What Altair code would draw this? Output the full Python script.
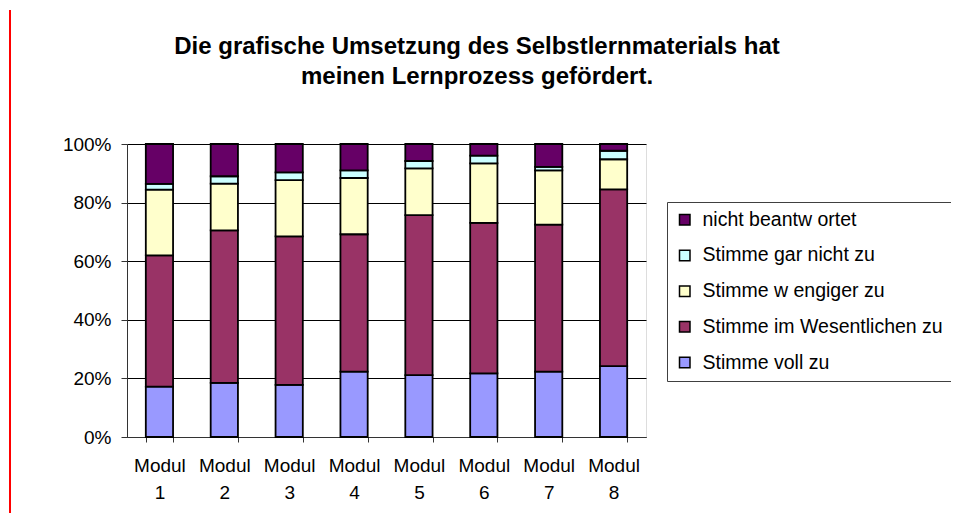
import altair as alt
import pandas as pd

modules = ["Modul 1", "Modul 2", "Modul 3", "Modul 4", "Modul 5", "Modul 6", "Modul 7", "Modul 8"]

# values in percent
voll = [17.2, 18.5, 17.8, 22.3, 21.1, 21.7, 22.3, 24.2]
wesentlich = [44.8, 52.0, 50.7, 46.9, 54.6, 51.4, 50.2, 60.3]
weniger = [22.4, 16.0, 19.2, 19.2, 16.0, 20.3, 18.5, 10.3]
gar_nicht = [2.0, 2.5, 2.6, 2.6, 2.5, 2.6, 1.2, 2.9]
nicht_beantwortet = [13.6, 11.0, 9.7, 9.0, 5.8, 4.0, 7.8, 2.3]

series_names = [
    "Stimme voll zu",
    "Stimme im Wesentlichen zu",
    "Stimme w engiger zu",
    "Stimme gar nicht zu",
    "nicht beantw ortet",
]
series_values = [voll, wesentlich, weniger, gar_nicht, nicht_beantwortet]

legend_order = list(reversed(series_names))
legend_colors = ["#660066", "#CCFFFF", "#FFFFCC", "#993366", "#9999FF"]

title_lines = [
    "Die grafische Umsetzung des Selbstlernmaterials hat",
    "meinen Lernprozess gefördert.",
]

rows = []
for s_idx, (name, vals) in enumerate(zip(series_names, series_values)):
    for m, v in zip(modules, vals):
        rows.append({"Modul": m, "Antwort": name, "Wert": v, "Reihenfolge": s_idx})
df = pd.DataFrame(rows)

FONT = "Liberation Sans"

bars = alt.Chart(df).mark_bar(stroke="black", strokeWidth=1.8).encode(
    x=alt.X(
        "Modul:N",
        sort=modules,
        scale=alt.Scale(paddingInner=0.58, paddingOuter=0.29),
        axis=alt.Axis(
            title=None,
            labelAngle=0,
            labelExpr="split(datum.label, ' ')",
            labelFont=FONT,
            labelFontSize=19,
            labelColor="black",
            labelLineHeight=27,
            labelPadding=14,
            tickBand="extent",
            ticks=True,
            tickSize=5,
            tickColor="#333333",
            domainColor="#333333",
            domainWidth=1,
            grid=False,
        ),
    ),
    y=alt.Y(
        "Wert:Q",
        stack="normalize",
        scale=alt.Scale(domain=[0, 1]),
        axis=alt.Axis(
            title=None,
            format=".0%",
            values=[0, 0.2, 0.4, 0.6, 0.8, 1.0],
            labelFont=FONT,
            labelFontSize=19,
            labelColor="black",
            labelPadding=10,
            tickSize=6,
            tickColor="#333333",
            domainColor="#333333",
            grid=True,
            gridColor="black",
            gridWidth=1,
            gridOpacity=1,
        ),
    ),
    color=alt.Color(
        "Antwort:N",
        scale=alt.Scale(domain=legend_order, range=legend_colors),
        legend=alt.Legend(
            title=None,
            orient="none",
            legendX=540,
            legendY=58,
            direction="vertical",
            symbolType="square",
            symbolSize=110,
            symbolStrokeColor="black",
            symbolStrokeWidth=1.5,
            symbolOpacity=1,
            labelFont=FONT,
            labelFontSize=19.5,
            labelColor="black",
            labelLimit=500,
            labelOffset=8,
            rowPadding=14.7,
            padding=8,
            strokeColor="#404040",
            fillColor="white",
        ),
    ),
    order=alt.Order("Reihenfolge:Q", sort="ascending"),
)

frame_df = pd.DataFrame({"part": ["top", "left"]})

frame_left = alt.Chart(frame_df).transform_filter(
    "datum.part == 'left'"
).mark_rect(color="#ff0000", strokeWidth=0).encode(
    x=alt.value(-118), x2=alt.value(-116), y=alt.value(-134), y2=alt.value(380)
)

title = alt.Chart(frame_df).transform_filter(
    "datum.part == 'top'"
).mark_text(
    font=FONT,
    fontSize=24,
    fontWeight="bold",
    color="black",
    align="center",
    baseline="alphabetic",
    lineHeight=30,
).encode(
    x=alt.value(350),
    y=alt.value(-90),
    text=alt.value(title_lines),
)

chart = alt.layer(frame_left, bars, title).properties(
    width=519,
    height=293,
    padding={"left": 119, "top": 136, "right": 305, "bottom": 76},
    autosize=alt.AutoSizeParams(type="none"),
).configure_view(
    fill="#C0C0C0", stroke="#808080", strokeWidth=2
).configure(background="white")

chart.save("out.html", embed_options={"renderer": "svg", "actions": False})
